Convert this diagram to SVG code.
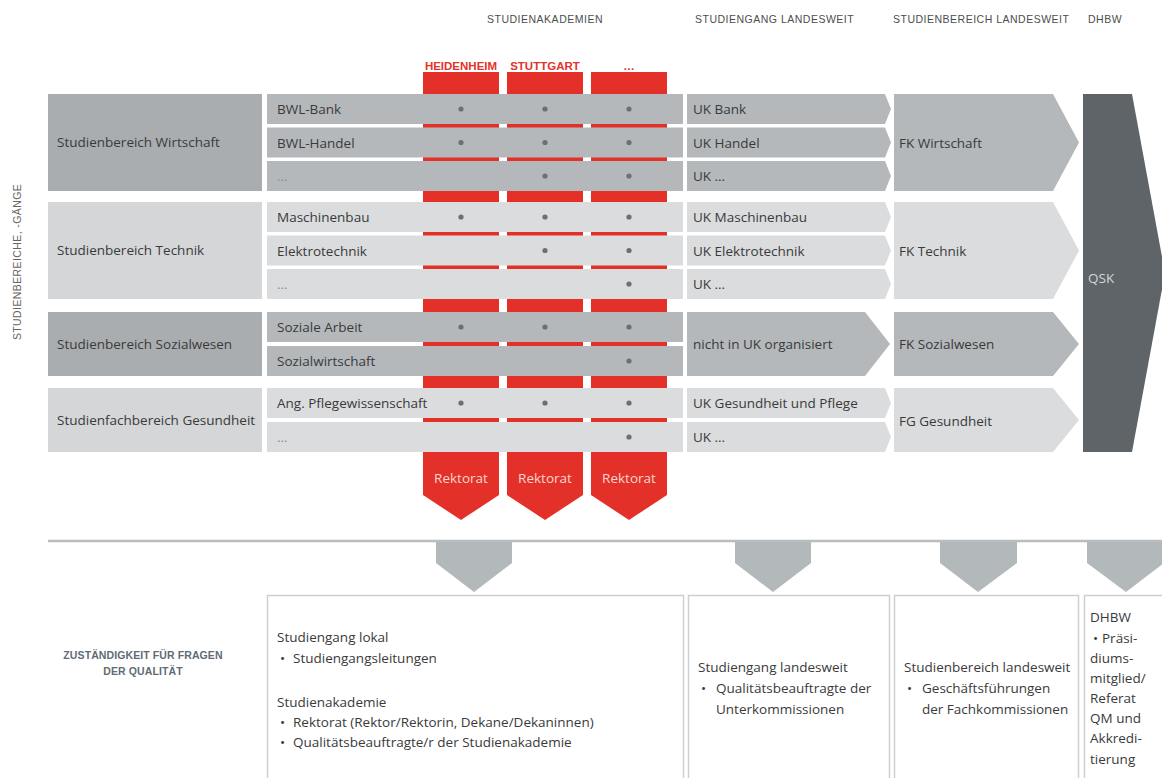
<svg xmlns="http://www.w3.org/2000/svg" width="1162" height="778" viewBox="0 0 1162 778">
<style>
text{font-family:"Open Sans","Liberation Sans",Arial,sans-serif;fill:#3a3a3a;font-size:13.5px}
.hd{font-family:"Liberation Sans",Arial,sans-serif;font-size:10.5px;letter-spacing:0.5px;fill:#4d4d4d}
.rh{font-family:"Liberation Sans",Arial,sans-serif;font-size:11.5px;font-weight:bold;fill:#e5322a;text-anchor:middle}
.rk{font-size:13.5px;fill:#fcd6cc;text-anchor:middle}
.el{fill:#8a8d90}
.dk{fill:#a9adb0}
.dr{fill:#b4b8bb}
.lt{fill:#d4d6d8}
.lr{fill:#dadcde}
.red{fill:#e3312a}
.dot{fill:#6b7073}
.box{fill:#fff;stroke:#cdd0d2;stroke-width:1.5}
.ga{fill:#b3b8bb}
.qs{font-family:"Liberation Sans",Arial,sans-serif;font-size:10.5px;font-weight:bold;letter-spacing:0.1px;fill:#5f6b75;text-anchor:middle}
</style>
<rect width="1162" height="778" fill="#fff"/>

<g id="headers">
<text class="hd" x="545" y="23" text-anchor="middle">STUDIENAKADEMIEN</text>
<text class="hd" x="695" y="23">STUDIENGANG LANDESWEIT</text>
<text class="hd" x="893" y="23">STUDIENBEREICH LANDESWEIT</text>
<text class="hd" x="1088" y="23">DHBW</text>
<text class="hd" transform="translate(21,262) rotate(-90)" text-anchor="middle" style="letter-spacing:0.4px;fill:#666">STUDIENBEREICHE, -GÄNGE</text>
</g>

<g id="akademien">
<g id="col-heidenheim">
<text class="rh" x="461" y="70">HEIDENHEIM</text>
<polygon class="red" points="423,72 499,72 499,495 461,520 423,495"/>
<text class="rk" x="461" y="483">Rektorat</text>
</g>
<g id="col-stuttgart">
<text class="rh" x="545" y="70">STUTTGART</text>
<polygon class="red" points="507,72 583,72 583,495 545,520 507,495"/>
<text class="rk" x="545" y="483">Rektorat</text>
</g>
<g id="col-more">
<text class="rh" x="629" y="70">…</text>
<polygon class="red" points="591,72 667,72 667,495 629,520 591,495"/>
<text class="rk" x="629" y="483">Rektorat</text>
</g>
</g>

<g id="wirtschaft">
<rect class="dk" x="48" y="94" width="214" height="97"/>
<text x="57" y="147">Studienbereich Wirtschaft</text>
<rect class="dr" x="267" y="94" width="416" height="30"/>
<rect class="dr" x="267" y="127.5" width="416" height="30"/>
<rect class="dr" x="267" y="161" width="416" height="30"/>
<text x="277" y="114">BWL-Bank</text>
<text x="277" y="148">BWL-Handel</text>
<text class="el" x="277" y="181">…</text>
<polygon class="dr" points="687,94 885,94 891,109 885,124 687,124"/>
<polygon class="dr" points="687,127.5 885,127.5 891,142.5 885,157.5 687,157.5"/>
<polygon class="dr" points="687,161 885,161 891,176 885,191 687,191"/>
<text x="693" y="114">UK Bank</text>
<text x="693" y="148">UK Handel</text>
<text x="693" y="181">UK …</text>
<polygon class="dr" points="894,94 1053,94 1079,142.5 1053,191 894,191"/>
<text x="899" y="148">FK Wirtschaft</text>
</g>

<g id="technik">
<rect class="lt" x="48" y="202" width="214" height="97"/>
<text x="57" y="255">Studienbereich Technik</text>
<rect class="lr" x="267" y="202" width="416" height="30"/>
<rect class="lr" x="267" y="235.5" width="416" height="30"/>
<rect class="lr" x="267" y="269" width="416" height="30"/>
<text x="277" y="222">Maschinenbau</text>
<text x="277" y="256">Elektrotechnik</text>
<text class="el" x="277" y="289">…</text>
<polygon class="lr" points="687,202 885,202 891,217 885,232 687,232"/>
<polygon class="lr" points="687,235.5 885,235.5 891,250.5 885,265.5 687,265.5"/>
<polygon class="lr" points="687,269 885,269 891,284 885,299 687,299"/>
<text x="693" y="222">UK Maschinenbau</text>
<text x="693" y="256">UK Elektrotechnik</text>
<text x="693" y="289">UK …</text>
<polygon class="lr" points="894,202 1053,202 1079,250.5 1053,299 894,299"/>
<text x="899" y="256">FK Technik</text>
</g>

<g id="sozialwesen">
<rect class="dk" x="48" y="312" width="214" height="64"/>
<text x="57" y="349">Studienbereich Sozialwesen</text>
<rect class="dr" x="267" y="312" width="416" height="30"/>
<rect class="dr" x="267" y="346" width="416" height="30"/>
<text x="277" y="332">Soziale Arbeit</text>
<text x="277" y="366">Sozialwirtschaft</text>
<polygon class="dr" points="687,312 865,312 890,344 865,376 687,376"/>
<text x="693" y="349">nicht in UK organisiert</text>
<polygon class="dr" points="894,312 1053,312 1079,344 1053,376 894,376"/>
<text x="899" y="349">FK Sozialwesen</text>
</g>

<g id="gesundheit">
<rect class="lt" x="48" y="388" width="214" height="64"/>
<text x="57" y="425">Studienfachbereich Gesundheit</text>
<rect class="lr" x="267" y="388" width="416" height="30"/>
<rect class="lr" x="267" y="422" width="416" height="30"/>
<text x="277" y="408">Ang. Pflegewissenschaft</text>
<text class="el" x="277" y="442">…</text>
<polygon class="lr" points="687,388 885,388 891,403 885,418 687,418"/>
<polygon class="lr" points="687,422 885,422 891,437 885,452 687,452"/>
<text x="693" y="408">UK Gesundheit und Pflege</text>
<text x="693" y="442">UK …</text>
<polygon class="lr" points="894,388 1053,388 1079,420 1053,452 894,452"/>
<text x="899" y="426">FG Gesundheit</text>
</g>

<g id="qsk">
<polygon fill="#5e6468" points="1083,94 1132,94 1165,273 1132,452 1083,452"/>
<text x="1088" y="283" style="fill:#d3d7d9">QSK</text>
</g>

<g id="dots">
<circle class="dot" cx="461" cy="109" r="2.6"/><circle class="dot" cx="545" cy="109" r="2.6"/><circle class="dot" cx="629" cy="109" r="2.6"/>
<circle class="dot" cx="461" cy="142.5" r="2.6"/><circle class="dot" cx="545" cy="142.5" r="2.6"/><circle class="dot" cx="629" cy="142.5" r="2.6"/>
<circle class="dot" cx="545" cy="176" r="2.6"/><circle class="dot" cx="629" cy="176" r="2.6"/>
<circle class="dot" cx="461" cy="217" r="2.6"/><circle class="dot" cx="545" cy="217" r="2.6"/><circle class="dot" cx="629" cy="217" r="2.6"/>
<circle class="dot" cx="545" cy="250.5" r="2.6"/><circle class="dot" cx="629" cy="250.5" r="2.6"/>
<circle class="dot" cx="629" cy="284" r="2.6"/>
<circle class="dot" cx="461" cy="327" r="2.6"/><circle class="dot" cx="545" cy="327" r="2.6"/><circle class="dot" cx="629" cy="327" r="2.6"/>
<circle class="dot" cx="629" cy="361" r="2.6"/>
<circle class="dot" cx="461" cy="403" r="2.6"/><circle class="dot" cx="545" cy="403" r="2.6"/><circle class="dot" cx="629" cy="403" r="2.6"/>
<circle class="dot" cx="629" cy="437" r="2.6"/>
</g>

<g id="connectors">
<line x1="48" y1="541" x2="1162" y2="541" stroke="#b9bdc0" stroke-width="2.5"/>
<polygon class="ga" points="436,542 512,542 512,563 474,592 436,563"/>
<polygon class="ga" points="735,542 811,542 811,563 773,592 735,563"/>
<polygon class="ga" points="940,542 1017,542 1017,563 978,592 940,563"/>
<polygon class="ga" points="1087,542 1164,542 1164,563 1126,592 1087,563"/>
</g>

<g id="zustaendigkeit">
<text class="qs" x="143" y="659">ZUSTÄNDIGKEIT FÜR FRAGEN</text>
<text class="qs" x="143" y="675">DER QUALITÄT</text>
</g>

<g id="box-lokal">
<rect class="box" x="267.5" y="595.5" width="416" height="200"/>
<text x="277" y="642">Studiengang lokal</text>
<text x="280" y="663">•</text><text x="293" y="663">Studiengangsleitungen</text>
<text x="277" y="707">Studienakademie</text>
<text x="280" y="727">•</text><text x="293" y="727">Rektorat (Rektor/Rektorin, Dekane/Dekaninnen)</text>
<text x="280" y="747">•</text><text x="293" y="747">Qualitätsbeauftragte/r der Studienakademie</text>
</g>

<g id="box-studiengang">
<rect class="box" x="688.5" y="595.5" width="201" height="200"/>
<text x="698" y="672">Studiengang landesweit</text>
<text x="701" y="693">•</text><text x="716" y="693">Qualitätsbeauftragte der</text>
<text x="716" y="714">Unterkommissionen</text>
</g>

<g id="box-studienbereich">
<rect class="box" x="894.5" y="595.5" width="184" height="200"/>
<text x="904" y="672">Studienbereich landesweit</text>
<text x="907" y="693">•</text><text x="922" y="693">Geschäftsführungen</text>
<text x="922" y="714">der Fachkommissionen</text>
</g>

<g id="box-dhbw">
<rect class="box" x="1084.5" y="595.5" width="90" height="200"/>
<text x="1090" y="622">DHBW</text>
<text x="1093" y="643">•</text><text x="1102" y="643">Präsi-</text>
<text x="1090" y="663">diums-</text>
<text x="1090" y="683">mitglied/</text>
<text x="1090" y="703">Referat</text>
<text x="1090" y="723">QM und</text>
<text x="1090" y="743">Akkredi-</text>
<text x="1090" y="764">tierung</text>
</g>
</svg>
